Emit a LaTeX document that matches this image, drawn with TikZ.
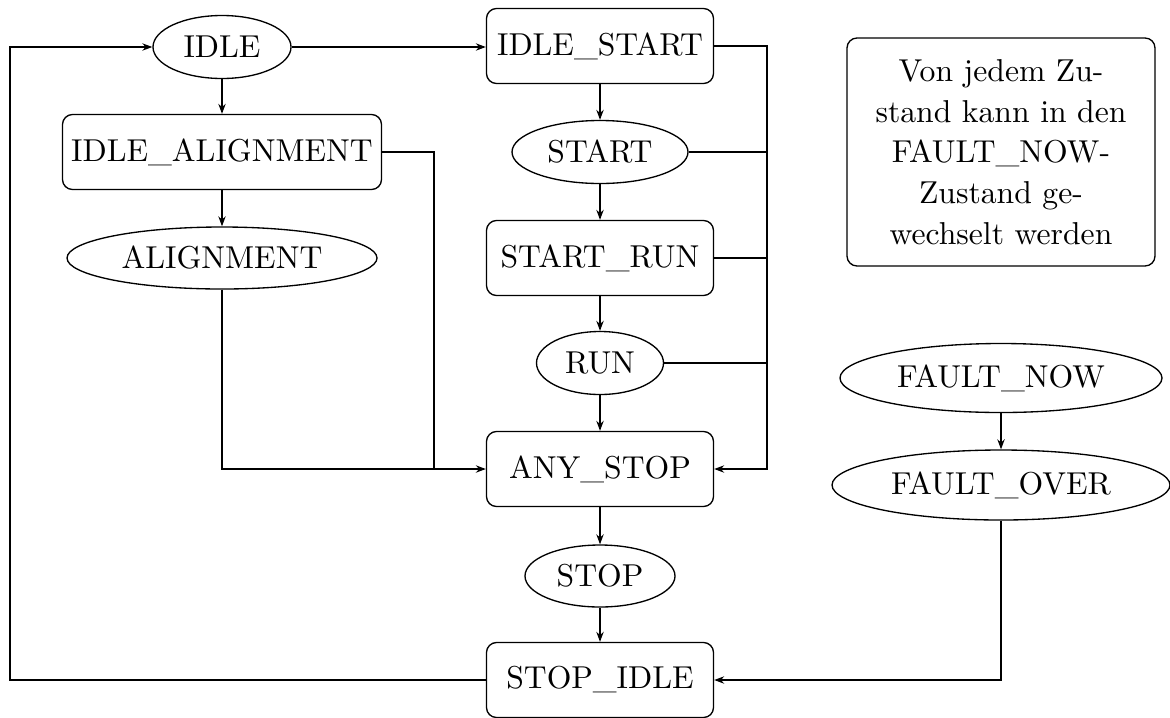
\documentclass[tikz,border=0pt]{standalone}
\usetikzlibrary{arrows.meta,shapes.geometric}
\begin{document}
\begin{tikzpicture}[x=0.3pt,y=-0.3pt,
  font=\fontsize{9.5}{12.2}\selectfont,
  every node/.style={line width=0.4pt},
  statebox/.style={draw,rounded corners=3pt,inner sep=0pt,minimum width=68.1pt,minimum height=22.5pt},
  stateell/.style={draw,ellipse,inner sep=0pt,minimum height=18.9pt},
  arr/.style={-{Stealth[length=3pt,width=2.2pt]}},
  line width=0.4pt]
\useasboundingbox (0,0) rectangle (1170,717);
\node[stateell,minimum width=41.4pt] (idle) at (222,47) {IDLE};
\node[statebox] (idlestart) at (600,46) {IDLE\_START};
\node[statebox,minimum width=95.7pt] (idlealign) at (222,152) {IDLE\_ALIGNMENT};
\node[stateell,minimum width=52.8pt] (start) at (600,152) {START};
\node[stateell,minimum width=93pt,minimum height=18.6pt] (align) at (222,258) {ALIGNMENT};
\node[statebox] (startrun) at (600,258) {START\_RUN};
\node[stateell,minimum width=38.1pt] (run) at (600,363) {RUN};
\node[statebox] (anystop) at (600,469) {ANY\_STOP};
\node[stateell,minimum width=45pt,minimum height=18.6pt] (stop) at (600,576) {STOP};
\node[statebox] (stopidle) at (600,680) {STOP\_IDLE};
\node[draw,rounded corners=3pt,inner sep=0pt,minimum width=92.4pt,minimum height=68.4pt,align=center] (note) at (1001,152)
  {Von jedem Zu-\\stand kann in den\\FAULT\_NOW-\\Zustand ge-\\wechselt werden};
\node[stateell,minimum width=96.6pt,minimum height=20.7pt] (faultnow) at (1001,378) {FAULT\_NOW};
\node[stateell,minimum width=101.4pt,minimum height=21pt] (faultover) at (1001,485) {FAULT\_OVER};
\coordinate (jl) at (434,469);
\coordinate (jr) at (767,469);
\coordinate (lc) at (10,360);
\draw[arr] (idle.east) -- (idle.east -| idlestart.west);
\draw[arr] (idle) -- (idlealign);
\draw[arr] (idlealign) -- (align);
\draw[arr] (idlestart) -- (start);
\draw[arr] (start) -- (startrun);
\draw[arr] (startrun) -- (run);
\draw[arr] (run) -- (anystop);
\draw[arr] (anystop) -- (stop);
\draw[arr] (stop) -- (stopidle);
\draw[arr] (faultnow) -- (faultover);
\draw[arr] (align.south) |- (anystop.west);
\draw (idlealign.east) -| (jl);
\draw[arr] (idlestart.east) -| (jr) -- (anystop.east);
\draw (start.east) -- (start.east -| jr);
\draw (startrun.east) -- (startrun.east -| jr);
\draw (run.east) -- (run.east -| jr);
\draw[arr] (stopidle.west) -| (lc) |- (idle.west);
\draw[arr] (faultover.south) |- (stopidle.east);
\end{tikzpicture}
\end{document}
